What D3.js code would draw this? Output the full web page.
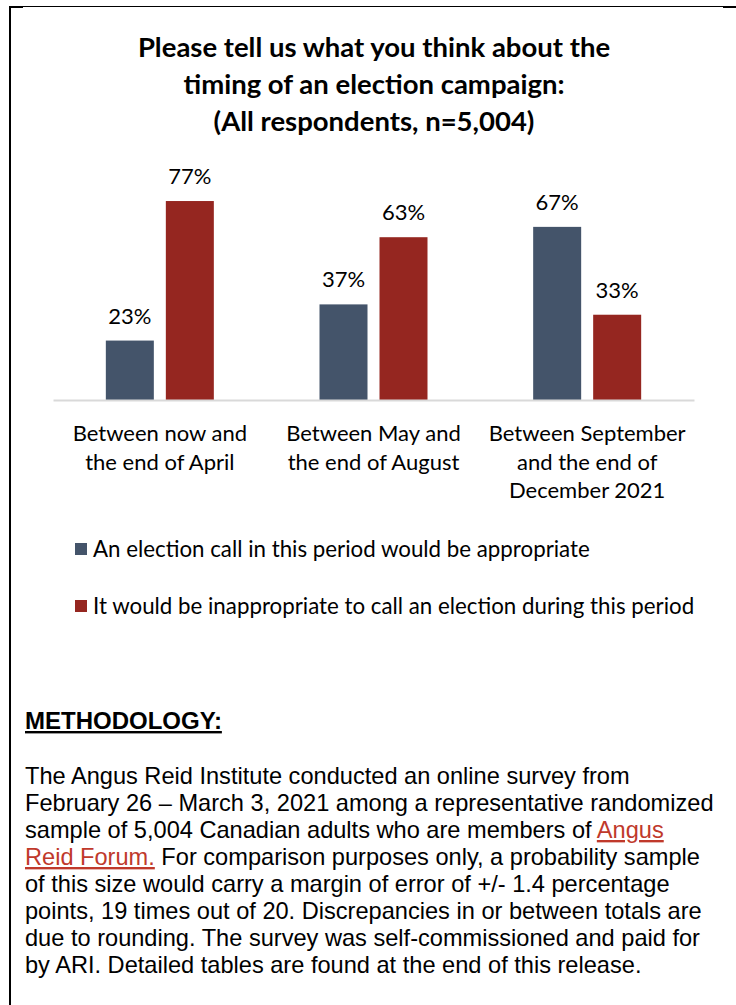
<!DOCTYPE html>
<html>
<head>
<meta charset="utf-8">
<title>Election timing</title>
<script src="https://cdn.jsdelivr.net/npm/d3@7"></script>
<style>
body { margin:0; background:#fff; }
</style>
</head>
<body>
<script>
var categories = ["Between now and|the end of April", "Between May and|the end of August", "Between September|and the end of|December 2021"];
var seriesNames = ["An election call in this period would be appropriate", "It would be inappropriate to call an election during this period"];
var appropriate = [23, 37, 67];
var inappropriate = [77, 63, 33];
var titleLines = ["Please tell us what you think about the", "timing of an election campaign:", "(All respondents, n=5,004)"];
var colors = ["#44546a", "#952620"];

var width = 736, height = 1005;
var svg = d3.select('body').append('svg').attr('width', width).attr('height', height);

// frame pieces
svg.append('line').attr('x1', 10).attr('y1', 6).attr('x2', 10).attr('y2', height).attr('stroke', '#000').attr('stroke-width', 2);
svg.append('line').attr('x1', 9).attr('y1', 6.5).attr('x2', 736).attr('y2', 6.5).attr('stroke', '#000').attr('stroke-width', 1);
svg.append('rect').attr('x', 9).attr('y', 6).attr('width', 14).attr('height', 2).attr('fill', '#000');
svg.append('rect').attr('x', 723).attr('y', 6).attr('width', 13).attr('height', 2).attr('fill', '#000');

// title
svg.append('g').selectAll('text').data(titleLines).enter().append('text')
  .attr('x', 374).attr('y', function(d, i){ return 57 + i * 37; })
  .attr('text-anchor', 'middle')
  .style('font-family', 'Lato, sans-serif').style('font-weight', 'bold').style('font-size', '27.5px')
  .attr('fill', '#000')
  .text(function(d){ return d; });

var base = 400;
var x = d3.scaleBand().domain(categories).range([53, 694]);
var y = d3.scaleLinear().domain([0, 100]).range([base, base - 258.4]);
var x1 = d3.scaleBand().domain([0, 1]).range([0, 108]).paddingInner(0.2);

var data = [];
categories.forEach(function(c, i){
  data.push({cat: c, s: 0, v: appropriate[i]});
  data.push({cat: c, s: 1, v: inappropriate[i]});
});

function barX(d){ return x(d.cat) + (x.bandwidth() - 108) / 2 + x1(d.s); }

svg.append('g').selectAll('rect').data(data).enter().append('rect')
  .attr('x', barX).attr('y', function(d){ return y(d.v); })
  .attr('width', x1.bandwidth()).attr('height', function(d){ return base - y(d.v); })
  .attr('fill', function(d){ return colors[d.s]; });

svg.append('g').selectAll('text').data(data).enter().append('text')
  .attr('x', function(d){ return barX(d) + x1.bandwidth() / 2; })
  .attr('y', function(d){ return y(d.v) - 17; })
  .attr('text-anchor', 'middle')
  .style('font-family', 'Lato, sans-serif').style('font-size', '22px')
  .text(function(d){ return d.v + '%'; });

// category axis
var axis = svg.append('g').attr('transform', 'translate(0,' + base + ')')
  .call(d3.axisBottom(x).tickSize(0).tickSizeOuter(0).tickFormat(''));
axis.select('.domain').attr('stroke', '#d9d9d9').attr('stroke-width', 2);
axis.selectAll('.tick').each(function(d){
  var t = d3.select(this).append('text').attr('fill', '#000').attr('text-anchor', 'middle')
    .style('font-family', 'Lato, sans-serif').style('font-size', '22px');
  d.split('|').forEach(function(line, i){
    t.append('tspan').attr('x', 0).attr('y', 41 + i * 28.5).text(line);
  });
});

// legend
var leg = svg.append('g').selectAll('g').data(seriesNames).enter().append('g')
  .attr('transform', function(d, i){ return 'translate(75,' + (543 + i * 57) + ')'; });
leg.append('rect').attr('width', 12).attr('height', 12).attr('fill', function(d, i){ return colors[i]; });
leg.append('text').attr('x', 18).attr('y', 14)
  .style('font-family', 'Lato, sans-serif').style('font-size', '22.3px')
  .text(function(d){ return d; });

// methodology
svg.append('text').attr('x', 25).attr('y', 729)
  .style('font-family', '"Liberation Sans", Arial, sans-serif').style('font-weight', 'bold').style('font-size', '24px')
  .style('text-decoration', 'underline')
  .text('METHODOLOGY:');

var methLines = [
  [["The Angus Reid Institute conducted an online survey from", 0]],
  [["February 26 \u2013 March 3, 2021 among a representative randomized", 0]],
  [["sample of 5,004 Canadian adults who are members of ", 0], ["Angus", 1]],
  [["Reid Forum.", 1], [" For comparison purposes only, a probability sample", 0]],
  [["of this size would carry a margin of error of +/- 1.4 percentage", 0]],
  [["points, 19 times out of 20. Discrepancies in or between totals are", 0]],
  [["due to rounding. The survey was self-commissioned and paid for", 0]],
  [["by ARI. Detailed tables are found at the end of this release.", 0]]
];
svg.append('g').selectAll('text').data(methLines).enter().append('text')
  .attr('x', 25).attr('y', function(d, i){ return 784 + i * 27; })
  .style('font-family', '"Liberation Sans", Arial, sans-serif').style('font-size', '23.6px')
  .attr('fill', '#000')
  .each(function(d){
    var t = d3.select(this);
    d.forEach(function(seg){
      var s = t.append('tspan').text(seg[0]);
      if (seg[1]) s.attr('fill', '#c0392b').style('text-decoration', 'underline');
    });
  });
</script>
</body>
</html>
